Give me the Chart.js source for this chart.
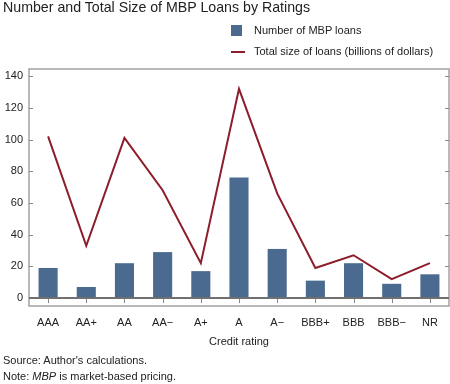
<!DOCTYPE html>
<html>
<head>
<meta charset="utf-8">
<script src="https://cdn.jsdelivr.net/npm/chart.js@4.4.1/dist/chart.umd.min.js"></script>
<style>
  body { margin: 0; background: #fff; font-family: "Liberation Sans", Arial, sans-serif; color: #222; }
  #wrap { position: relative; width: 450px; height: 384px; overflow: hidden; }
  #chart { position: absolute; left: 0; top: 0; }
  .txt { position: absolute; white-space: nowrap; font-size: 11px; line-height: 13px; }
  #title { left: 3px; top: 0px; font-size: 14.2px; line-height: 14px; }
  .swatch { position: absolute; }
</style>
</head>
<body>
<div id="wrap">
  <canvas id="chart" width="450" height="384"></canvas>
  <div id="title" class="txt">Number and Total Size of MBP Loans by Ratings</div>
  <div class="swatch" style="left:231px;top:25px;width:11px;height:11px;background:#4a6b8f;"></div>
  <div class="txt" style="left:254px;top:24px;">Number of MBP loans</div>
  <div class="swatch" style="left:231px;top:51px;width:14px;height:2px;background:#8c1d2a;"></div>
  <div class="txt" style="left:254px;top:45px;">Total size of loans (billions of dollars)</div>
  <div class="txt" style="left:3px;top:354px;">Source: Author's calculations.</div>
  <div class="txt" style="left:3px;top:370px;">Note: <i>MBP</i> is market-based pricing.</div>
</div>
<script>
const ratings = ["AAA", "AA+", "AA", "AA\u2212", "A+", "A", "A\u2212", "BBB+", "BBB", "BBB\u2212", "NR"];
const numLoans = [19, 7, 22, 29, 17, 76, 31, 11, 22, 9, 15];
const totalSize = [102, 33, 101, 68, 22, 132, 66, 19, 27, 12, 22];
const yTicks = [0, 20, 40, 60, 80, 100, 120, 140];

const barColor = "#4a6b8f";
const lineColor = "#8c1d2a";

// frame, zero line and the small inside ticks
const framePlugin = {
  id: "frame",
  afterDatasetsDraw(chart) {
    const ctx = chart.ctx;
    const a = chart.chartArea;
    const x = chart.scales.x, y = chart.scales.y;
    ctx.save();
    ctx.strokeStyle = "#a3a3a3";
    ctx.lineWidth = 1.5;
    ctx.strokeRect(a.left, a.top, a.right - a.left, a.bottom - a.top);

    ctx.strokeStyle = "#8a8a8a";
    ctx.lineWidth = 1;
    yTicks.forEach(v => {
      const py = Math.round(y.getPixelForValue(v)) + 0.5;
      ctx.beginPath();
      ctx.moveTo(a.left, py); ctx.lineTo(a.left + 4, py);
      ctx.moveTo(a.right, py); ctx.lineTo(a.right - 4, py);
      ctx.stroke();
    });
    const y0 = y.getPixelForValue(0);
    ratings.forEach((r, i) => {
      const px = Math.round(x.getPixelForValue(i)) + 0.5;
      ctx.beginPath();
      ctx.moveTo(px, y0); ctx.lineTo(px, y0 + 5);
      ctx.stroke();
    });

    ctx.strokeStyle = "#707070";
    ctx.lineWidth = 2;
    ctx.beginPath();
    ctx.moveTo(a.left, y0); ctx.lineTo(a.right, y0);
    ctx.stroke();
    ctx.restore();
  }
};

new Chart(document.getElementById("chart").getContext("2d"), {
  type: "bar",
  data: {
    labels: ratings,
    datasets: [
      {
        type: "line",
        label: "Total size of loans (billions of dollars)",
        data: totalSize,
        borderColor: lineColor,
        borderWidth: 2,
        pointRadius: 0,
        tension: 0,
        fill: false,
        order: 0
      },
      {
        label: "Number of MBP loans",
        data: numLoans,
        backgroundColor: barColor,
        borderWidth: 0,
        categoryPercentage: 1,
        barPercentage: 0.5,
        order: 1
      }
    ]
  },
  options: {
    responsive: false,
    animation: false,
    layout: { padding: { top: 69, left: 0, right: 1, bottom: 34 } },
    plugins: { legend: { display: false }, tooltip: { enabled: false } },
    scales: {
      x: {
        offset: true,
        grid: { display: false, drawTicks: false },
        border: { display: false },
        ticks: { color: "#222", font: { family: "Liberation Sans", size: 11 }, padding: 10, maxRotation: 0, autoSkip: false },
        title: { display: true, text: "Credit rating", color: "#222", font: { family: "Liberation Sans", size: 11 }, padding: { top: 4, bottom: 1 } },
        afterFit: s => { s.height = 44; }
      },
      y: {
        min: -5,
        max: 144.5,
        grid: { display: false, drawTicks: false },
        border: { display: false },
        ticks: { color: "#222", font: { family: "Liberation Sans", size: 11 }, padding: 6 },
        afterBuildTicks: axis => { axis.ticks = yTicks.map(v => ({ value: v })); },
        afterFit: s => { s.width = 29; }
      }
    }
  },
  plugins: [framePlugin]
});
</script>
</body>
</html>
